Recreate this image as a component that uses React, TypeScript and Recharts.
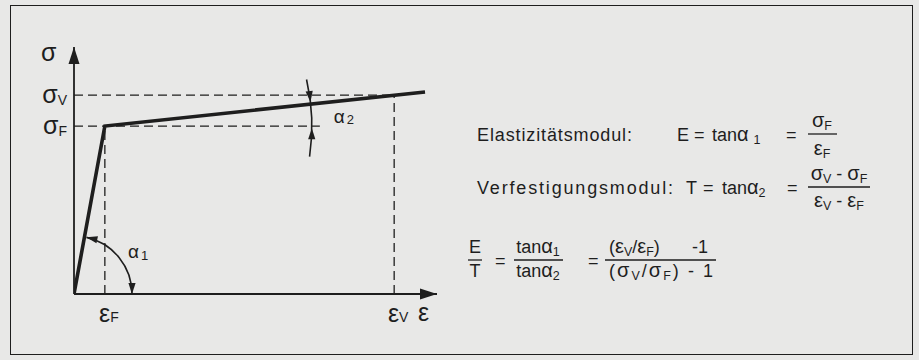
import React from 'react'
import { LineChart, Line, XAxis, YAxis, ReferenceLine, ReferenceDot } from 'recharts'

// bilinear stress-strain curve, relative units
const strainPoints = [0, 8.5, 96.7]
const stressPoints = [0, 68, 81.8]

// characteristic points: yield (F) and reference (V)
const strainMarks = [8.5, 88.2]
const stressMarks = [68, 80.5]
const markSubscripts = ['F', 'V']

const axisMax = 100

const W = 919
const H = 360
const AXIS_GAP = 30
const margin = { top: 47, right: 482, bottom: 66 - AXIS_GAP, left: 74 - AXIS_GAP }
const pxX = (W - 74 - margin.right) / axisMax
const pxY = (H - margin.top - 66) / axisMax

const INK = '#1e1e1e'
const BG = '#e8e8e7'
const FONT = '"Liberation Sans", Arial, Helvetica, sans-serif'

const data = strainPoints.map((e, i) => ({ strain: e, stress: stressPoints[i] }))

const rad = (d: number) => (d * Math.PI) / 180

function arcPath(cx: number, cy: number, r: number, a0: number, a1: number) {
  const x0 = cx + r * Math.cos(rad(a0))
  const y0 = cy + r * Math.sin(rad(a0))
  const x1 = cx + r * Math.cos(rad(a1))
  const y1 = cy + r * Math.sin(rad(a1))
  return `M${x0},${y0} A${r},${r} 0 0 ${a1 > a0 ? 1 : 0} ${x1},${y1}`
}

function arrowHead(tx: number, ty: number, dir: number, len = 11, half = 3.6) {
  const ux = Math.cos(rad(dir))
  const uy = Math.sin(rad(dir))
  const bx = tx - ux * len
  const by = ty - uy * len
  return `M${tx},${ty} L${bx - uy * half},${by + ux * half} L${bx + uy * half},${by - ux * half} Z`
}

// angle of the elastic branch and the hardening branch, in screen degrees
const elasticDeg =
  (Math.atan2(stressPoints[1] * pxY, strainPoints[1] * pxX) * 180) / Math.PI
const hardeningDeg =
  (Math.atan2((stressPoints[2] - stressPoints[1]) * pxY, (strainPoints[2] - strainPoints[1]) * pxX) * 180) /
  Math.PI

const ALPHA1_R = 58
const ALPHA2_R = 207

const Alpha1 = (props: any) => {
  const { cx, cy } = props
  const end = -(elasticDeg - 2)
  const ex = cx + ALPHA1_R * Math.cos(rad(end))
  const ey = cy + ALPHA1_R * Math.sin(rad(end))
  return (
    <g>
      <path d={arcPath(cx, cy, ALPHA1_R, end, 0)} fill="none" stroke={INK} strokeWidth={1.6} />
      <path d={arrowHead(cx + ALPHA1_R, cy, 90)} fill={INK} />
      <path d={arrowHead(ex, ey, end - 90)} fill={INK} />
      <text x={cx + 54} y={cy - 36} fontFamily={FONT} fontSize={19} fill={INK}>
        α<tspan fontSize={13} dx={2} dy={2}>1</tspan>
      </text>
    </g>
  )
}

const Alpha2 = (props: any) => {
  const { cx, cy } = props
  const up = -hardeningDeg - 0.6
  const tx = cx + ALPHA2_R * Math.cos(rad(up))
  const ty = cy + ALPHA2_R * Math.sin(rad(up))
  const lx = cx + ALPHA2_R * Math.cos(rad(0.6))
  const ly = cy + ALPHA2_R * Math.sin(rad(0.6))
  return (
    <g>
      <path d={arcPath(cx, cy, ALPHA2_R, -13, 8.5)} fill="none" stroke={INK} strokeWidth={1.6} />
      <path d={arrowHead(tx, ty, up + 90)} fill={INK} />
      <path d={arrowHead(lx, ly, 0.6 - 90)} fill={INK} />
      <text x={cx + 229} y={cy - 3} fontFamily={FONT} fontSize={19} fill={INK}>
        α<tspan fontSize={13} dx={2} dy={1}>2</tspan>
      </text>
    </g>
  )
}

const StrainArrow = (props: any) => {
  const { cx, cy } = props
  return (
    <g>
      <path d={arrowHead(cx, cy, 0, 17, 5.5)} fill={INK} />
      <text x={cx - 19} y={cy + 27} fontFamily={FONT} fontSize={25} fill={INK}>
        ε
      </text>
    </g>
  )
}

const StressArrow = (props: any) => {
  const { cx, cy } = props
  return (
    <g>
      <path d={arrowHead(cx, cy, -90, 17, 5.5)} fill={INK} />
      <text x={cx - 33} y={cy + 14} fontFamily={FONT} fontSize={25} fill={INK}>
        σ
      </text>
    </g>
  )
}

const StrainTick = (props: any) => {
  const { x, y, payload } = props
  const sub = markSubscripts[strainMarks.indexOf(payload.value)]
  return (
    <text x={x + 4} y={y + 28} textAnchor="middle" fontFamily={FONT} fontSize={25} fill={INK}>
      ε<tspan fontSize={14}>{sub}</tspan>
    </text>
  )
}

const StressTick = (props: any) => {
  const { x, y, payload } = props
  const sub = markSubscripts[stressMarks.indexOf(payload.value)]
  return (
    <text x={x - 7} y={y + 8} textAnchor="end" fontFamily={FONT} fontSize={25} fill={INK}>
      σ<tspan fontSize={14} dy={2}>{sub}</tspan>
    </text>
  )
}

// a run of text: 's' parts are subscripts, 'g' parts are greek symbols
type Part = [string, ('s' | 'g')?]
const SUB_DROP = 3
function Run({
  x,
  y,
  parts,
  anchor = 'start',
  len,
}: {
  x: number
  y: number
  parts: Part[]
  anchor?: string
  len?: number
}) {
  let low = false
  return (
    <text
      x={x}
      y={y}
      textAnchor={anchor as any}
      fontFamily={FONT}
      fontSize={18}
      fill={INK}
      style={{ whiteSpace: 'pre' }}
      textLength={len}
      lengthAdjust={len ? 'spacing' : undefined}
    >
      {parts.map(([t, kind], i) => {
        const sub = kind === 's'
        const dy = sub && !low ? SUB_DROP : !sub && low ? -SUB_DROP : 0
        low = sub
        return (
          <tspan key={i} dy={dy} fontSize={sub ? 12.5 : kind === 'g' ? 20 : 18}>
            {t}
          </tspan>
        )
      })}
    </text>
  )
}

const Bar = ({ x1, x2, y }: { x1: number; x2: number; y: number }) => (
  <line x1={x1} x2={x2} y1={y} y2={y} stroke={INK} strokeWidth={1.3} />
)

function Formulas() {
  return (
    <svg width={W} height={H} style={{ position: 'absolute', left: 0, top: 0 }}>
      {/* Elastizitätsmodul */}
      <Run x={477} y={141} len={155} parts={[['Elastizitätsmodul:']]} />
      <Run x={677} y={141} parts={[['E']]} />
      <Run x={694} y={141} parts={[['=']]} />
      <Run x={712} y={141} parts={[['tan'], ['α', 'g'], [' '], ['1', 's']]} />
      <Run x={786} y={141} parts={[['=']]} />
      <Run x={822} y={127} anchor="middle" parts={[['σ', 'g'], ['F', 's']]} />
      <Bar x1={808} x2={837} y={134} />
      <Run x={822} y={155} anchor="middle" parts={[['ε', 'g'], ['F', 's']]} />

      {/* Verfestigungsmodul */}
      <Run x={477} y={194} len={196} parts={[['Verfestigungsmodul:']]} />
      <Run x={686} y={194} parts={[['T']]} />
      <Run x={703} y={194} parts={[['=']]} />
      <Run x={722} y={194} parts={[['tan'], ['α', 'g'], ['2', 's']]} />
      <Run x={787} y={194} parts={[['=']]} />
      <Run x={839} y={180} anchor="middle" parts={[['σ', 'g'], ['V', 's'], [' - '], ['σ', 'g'], ['F', 's']]} />
      <Bar x1={808} x2={870} y={187} />
      <Run x={839} y={207} anchor="middle" parts={[['ε', 'g'], ['V', 's'], [' - '], ['ε', 'g'], ['F', 's']]} />

      {/* E / T */}
      <Run x={475} y={253} anchor="middle" parts={[['E']]} />
      <Bar x1={468} x2={482} y={260} />
      <Run x={475} y={277} anchor="middle" parts={[['T']]} />
      <Run x={495} y={267} parts={[['=']]} />
      <Run x={538} y={253} anchor="middle" parts={[['tan'], ['α', 'g'], ['1', 's']]} />
      <Bar x1={514} x2={563} y={260} />
      <Run x={538} y={277} anchor="middle" parts={[['tan'], ['α', 'g'], ['2', 's']]} />
      <Run x={588} y={267} parts={[['=']]} />
      <Run x={609} y={253} parts={[['('], ['ε', 'g'], ['V', 's'], ['/'], ['ε', 'g'], ['F', 's'], [')']]} />
      <Run x={692} y={253} parts={[['-1']]} />
      <Bar x1={605} x2={716} y={260} />
      <Run x={609} y={277} len={104} parts={[['('], ['σ', 'g'], ['V', 's'], ['/'], ['σ', 'g'], ['F', 's'], [') - 1']]} />
    </svg>
  )
}

export default function App() {
  const [epsF, epsV] = strainMarks
  const [sigF, sigV] = stressMarks
  // dashed yield line stops just past the alpha2 arc
  const yieldGuideEnd = epsF + (ALPHA2_R + 8) / pxX
  return (
    <div style={{ position: 'absolute', left: 0, top: 0, width: W, height: H, background: BG }}>
      <div
        style={{
          position: 'absolute',
          left: 10,
          top: 5,
          width: 903,
          height: 350,
          boxSizing: 'border-box',
          border: `1.5px solid ${INK}`,
        }}
      />
      <LineChart width={W} height={H} data={data} margin={margin} style={{ position: 'absolute', left: 0, top: 0 }}>
        <XAxis
          dataKey="strain"
          type="number"
          domain={[0, axisMax]}
          ticks={strainMarks}
          interval={0}
          height={AXIS_GAP}
          tickSize={0}
          tickMargin={0}
          tickLine={false}
          axisLine={{ stroke: INK, strokeWidth: 1.8 }}
          tick={<StrainTick />}
          allowDataOverflow
        />
        <YAxis
          type="number"
          domain={[0, axisMax]}
          ticks={stressMarks}
          interval={0}
          width={AXIS_GAP}
          tickSize={0}
          tickMargin={0}
          tickLine={false}
          axisLine={{ stroke: INK, strokeWidth: 1.8 }}
          tick={<StressTick />}
          allowDataOverflow
        />
        <ReferenceLine
          segment={[{ x: 0, y: sigV }, { x: epsV, y: sigV }]}
          stroke={INK}
          strokeWidth={1.3}
          strokeDasharray="9 5"
          ifOverflow="visible"
        />
        <ReferenceLine
          segment={[{ x: 0, y: sigF }, { x: yieldGuideEnd, y: sigF }]}
          stroke={INK}
          strokeWidth={1.3}
          strokeDasharray="9 5"
          ifOverflow="visible"
        />
        <ReferenceLine
          segment={[{ x: epsF, y: 0 }, { x: epsF, y: sigF }]}
          stroke={INK}
          strokeWidth={1.3}
          strokeDasharray="9 5"
          ifOverflow="visible"
        />
        <ReferenceLine
          segment={[{ x: epsV, y: 0 }, { x: epsV, y: sigV }]}
          stroke={INK}
          strokeWidth={1.3}
          strokeDasharray="9 5"
          ifOverflow="visible"
        />
        <Line
          type="linear"
          dataKey="stress"
          stroke={INK}
          strokeWidth={3.6}
          dot={false}
          activeDot={false}
          isAnimationActive={false}
        />
        <ReferenceDot x={0} y={0} r={0} shape={Alpha1} ifOverflow="visible" />
        <ReferenceDot x={epsF} y={sigF} r={0} shape={Alpha2} ifOverflow="visible" />
        <ReferenceDot x={axisMax} y={0} r={0} shape={StrainArrow} ifOverflow="visible" />
        <ReferenceDot x={0} y={axisMax} r={0} shape={StressArrow} ifOverflow="visible" />
      </LineChart>
      <Formulas />
    </div>
  )
}
